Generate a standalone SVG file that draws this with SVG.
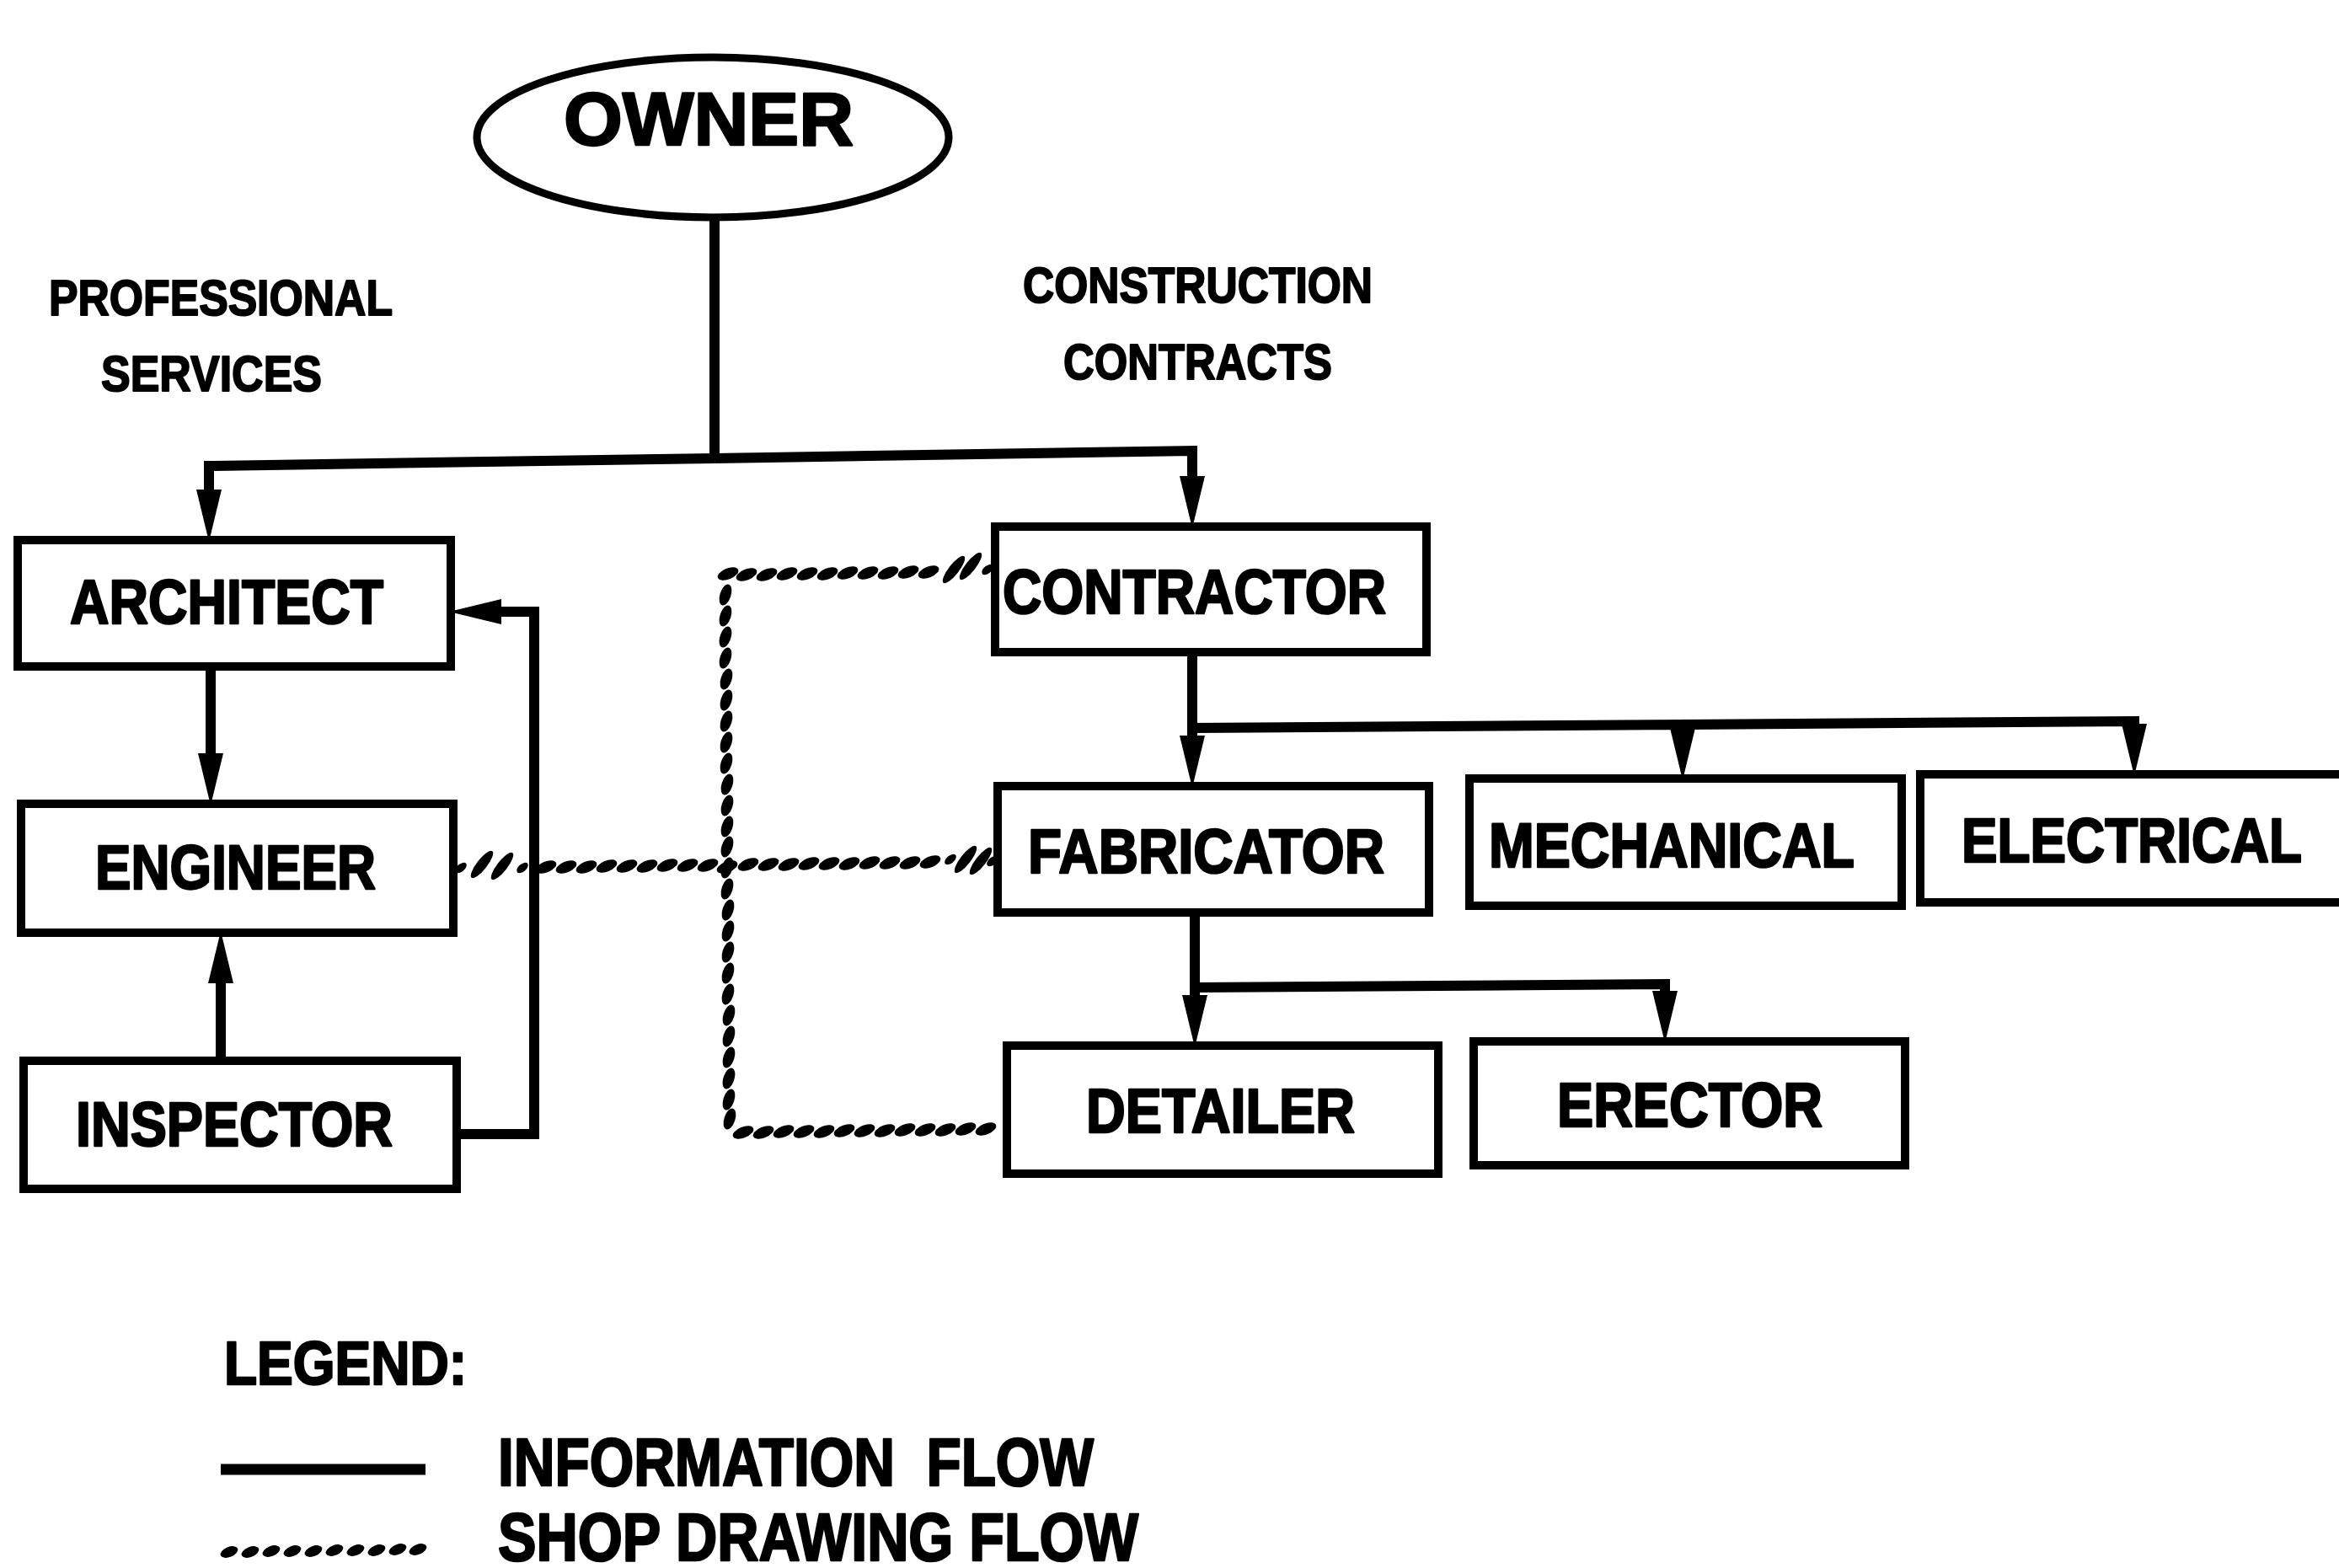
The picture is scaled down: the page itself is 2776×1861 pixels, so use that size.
<svg xmlns="http://www.w3.org/2000/svg" xmlns:xlink="http://www.w3.org/1999/xlink" width="2776" height="1861" viewBox="0 0 2776 1861">
  <style>
    .box { fill: #fff; stroke: #000; stroke-width: 10; }
    .lbl { font-family: "Liberation Sans", Arial, sans-serif; font-weight: bold; fill: #000; stroke: #000; stroke-width: 2.5; stroke-linejoin: round; }
    .node { font-size: 75px; }
    .sect { font-size: 60px; stroke-width: 2; }
    .flow { fill: none; stroke: #000; stroke-width: 12; stroke-linejoin: miter; }
    .shop { fill: #000; }
  </style>
  <defs>
    <marker id="arrow" viewBox="0 0 62 32" refX="30" refY="16" markerWidth="62" markerHeight="32" markerUnits="userSpaceOnUse" orient="auto">
      <path d="M0,1 L62,16 L0,31 Z" fill="#000"/>
    </marker>
    <!-- shop drawing dash blobs: horizontal run, vertical run, slash mark -->
    <ellipse id="bh" rx="13" ry="6.5" transform="rotate(-22)"/>
    <ellipse id="bv" rx="13" ry="6.5" transform="rotate(-72)"/>
    <ellipse id="sl" rx="20" ry="6" transform="rotate(-52)"/>
    <ellipse id="tk" rx="8" ry="4.5" transform="rotate(-40)"/>
    <ellipse id="bl" rx="11" ry="6" transform="rotate(-22)"/>
  </defs>

  <rect width="2776" height="1861" fill="#fff"/>

  <!-- section headings -->
  <g id="headings">
    <text class="lbl sect" x="58" y="374" textLength="408" lengthAdjust="spacingAndGlyphs">PROFESSIONAL</text>
    <text class="lbl sect" x="120" y="464" textLength="262" lengthAdjust="spacingAndGlyphs">SERVICES</text>
    <text class="lbl sect" x="1214" y="359" textLength="415" lengthAdjust="spacingAndGlyphs">CONSTRUCTION</text>
    <text class="lbl sect" x="1262" y="450" textLength="319" lengthAdjust="spacingAndGlyphs">CONTRACTS</text>
  </g>

  <!-- information flow connectors -->
  <g id="connectors">
    <g id="info-flow">
      <path class="flow" d="M848,257 V544"/>
      <path class="flow" d="M848,544 L248,553 V611" marker-end="url(#arrow)"/>
      <path class="flow" d="M848,544 L1415,535 V595" marker-end="url(#arrow)"/>
      <path class="flow" d="M250,791 V924" marker-end="url(#arrow)"/>
      <path class="flow" d="M262,1259 V1137" marker-end="url(#arrow)"/>
      <path class="flow" d="M542,1346 H634 V726 H565" marker-end="url(#arrow)"/>
      <path class="flow" d="M1415,774 V903" marker-end="url(#arrow)"/>
      <path class="flow" d="M1415,864 L1997,860 V894" marker-end="url(#arrow)"/>
      <path class="flow" d="M1997,860 L2533,856 V889" marker-end="url(#arrow)"/>
      <path class="flow" d="M1418,1083 V1211" marker-end="url(#arrow)"/>
      <path class="flow" d="M1418,1172 L1976,1168 V1206" marker-end="url(#arrow)"/>
    </g>

    <!-- shop drawing flow: contractor -> down -> detailer -->
    <g id="shop-flow" class="shop">
      <use href="#tk" x="1172" y="676"/>
      <use href="#sl" x="1152" y="672"/>
      <use href="#sl" x="1132" y="676"/>
      <use href="#bh" x="1102" y="679"/>
      <use href="#bh" x="1078" y="679"/>
      <use href="#bh" x="1054" y="680"/>
      <use href="#bh" x="1030" y="680"/>
      <use href="#bh" x="1006" y="680"/>
      <use href="#bh" x="982" y="681"/>
      <use href="#bh" x="958" y="681"/>
      <use href="#bh" x="934" y="681"/>
      <use href="#bh" x="910" y="682"/>
      <use href="#bh" x="886" y="682"/>
      <use href="#bh" x="864" y="681"/>

      <use href="#bv" x="861" y="706"/>
      <use href="#bv" x="861" y="731"/>
      <use href="#bv" x="861" y="756"/>
      <use href="#bv" x="861" y="781"/>
      <use href="#bv" x="862" y="806"/>
      <use href="#bv" x="862" y="831"/>
      <use href="#bv" x="862" y="856"/>
      <use href="#bv" x="862" y="881"/>
      <use href="#bv" x="862" y="906"/>
      <use href="#bv" x="863" y="931"/>
      <use href="#bv" x="863" y="956"/>
      <use href="#bv" x="863" y="981"/>
      <use href="#bv" x="863" y="1005"/>
      <use href="#bv" x="863" y="1055"/>
      <use href="#bv" x="864" y="1080"/>
      <use href="#bv" x="864" y="1105"/>
      <use href="#bv" x="864" y="1130"/>
      <use href="#bv" x="864" y="1155"/>
      <use href="#bv" x="864" y="1180"/>
      <use href="#bv" x="865" y="1205"/>
      <use href="#bv" x="865" y="1230"/>
      <use href="#bv" x="865" y="1255"/>
      <use href="#bv" x="865" y="1280"/>
      <use href="#bv" x="865" y="1305"/>
      <use href="#bv" x="866" y="1328"/>

      <use href="#bh" x="882" y="1344"/>
      <use href="#bh" x="906" y="1344"/>
      <use href="#bh" x="930" y="1343"/>
      <use href="#bh" x="954" y="1343"/>
      <use href="#bh" x="978" y="1343"/>
      <use href="#bh" x="1002" y="1342"/>
      <use href="#bh" x="1026" y="1342"/>
      <use href="#bh" x="1050" y="1342"/>
      <use href="#bh" x="1074" y="1341"/>
      <use href="#bh" x="1098" y="1341"/>
      <use href="#bh" x="1122" y="1341"/>
      <use href="#bh" x="1146" y="1340"/>
      <use href="#bh" x="1170" y="1340"/>
    </g>

    <!-- shop drawing flow: engineer -> fabricator -->
    <g id="shop-flow-2" class="shop">
      <use href="#tk" x="547" y="1030"/>
      <use href="#sl" x="572" y="1026"/>
      <use href="#sl" x="596" y="1028"/>
      <use href="#tk" x="620" y="1030"/>
      <use href="#bh" x="648" y="1029"/>
      <use href="#bh" x="672" y="1029"/>
      <use href="#bh" x="696" y="1029"/>
      <use href="#bh" x="720" y="1028"/>
      <use href="#bh" x="744" y="1028"/>
      <use href="#bh" x="768" y="1028"/>
      <use href="#bh" x="792" y="1027"/>
      <use href="#bh" x="816" y="1027"/>
      <use href="#bh" x="840" y="1027"/>
      <use href="#bh" x="863" y="1029"/>
      <use href="#bv" x="863" y="1030"/>
      <use href="#bh" x="888" y="1026"/>
      <use href="#bh" x="912" y="1026"/>
      <use href="#bh" x="936" y="1026"/>
      <use href="#bh" x="960" y="1025"/>
      <use href="#bh" x="984" y="1025"/>
      <use href="#bh" x="1008" y="1025"/>
      <use href="#bh" x="1032" y="1024"/>
      <use href="#bh" x="1056" y="1024"/>
      <use href="#bh" x="1080" y="1024"/>
      <use href="#bh" x="1104" y="1023"/>
      <use href="#tk" x="1128" y="1020"/>
      <use href="#sl" x="1146" y="1020"/>
      <use href="#sl" x="1164" y="1022"/>
      <use href="#tk" x="1178" y="1022"/>
    </g>
  </g>

  <!-- nodes -->
  <g id="owner">
    <ellipse cx="846" cy="163" rx="280" ry="95" fill="#fff" stroke="#000" stroke-width="9"/>
    <text class="lbl" x="669" y="172" font-size="89" stroke-width="3" textLength="344" lengthAdjust="spacingAndGlyphs">OWNER</text>
  </g>
  <g id="architect">
    <rect class="box" x="21" y="641" width="514" height="150"/>
    <text class="lbl node" x="83" y="740" textLength="372" lengthAdjust="spacingAndGlyphs">ARCHITECT</text>
  </g>
  <g id="engineer">
    <rect class="box" x="25" y="954" width="513" height="153"/>
    <text class="lbl node" x="113" y="1055" textLength="333" lengthAdjust="spacingAndGlyphs">ENGINEER</text>
  </g>
  <g id="inspector">
    <rect class="box" x="28" y="1259" width="514" height="152"/>
    <text class="lbl node" x="90" y="1360" textLength="376" lengthAdjust="spacingAndGlyphs">INSPECTOR</text>
  </g>
  <g id="contractor">
    <rect class="box" x="1181" y="625" width="512" height="149"/>
    <text class="lbl node" x="1190" y="728" textLength="455" lengthAdjust="spacingAndGlyphs">CONTRACTOR</text>
  </g>
  <g id="fabricator">
    <rect class="box" x="1184" y="933" width="512" height="150"/>
    <text class="lbl node" x="1220" y="1036" textLength="423" lengthAdjust="spacingAndGlyphs">FABRICATOR</text>
  </g>
  <g id="mechanical">
    <rect class="box" x="1744" y="924" width="513" height="151"/>
    <text class="lbl node" x="1767" y="1029" textLength="434" lengthAdjust="spacingAndGlyphs">MECHANICAL</text>
  </g>
  <g id="electrical">
    <rect class="box" x="2279" y="919" width="520" height="152"/>
    <text class="lbl node" x="2328" y="1023" textLength="404" lengthAdjust="spacingAndGlyphs">ELECTRICAL</text>
  </g>
  <g id="detailer">
    <rect class="box" x="1195" y="1241" width="512" height="152"/>
    <text class="lbl node" x="1289" y="1344" textLength="319" lengthAdjust="spacingAndGlyphs">DETAILER</text>
  </g>
  <g id="erector">
    <rect class="box" x="1749" y="1236" width="512" height="147"/>
    <text class="lbl node" x="1848" y="1337" textLength="315" lengthAdjust="spacingAndGlyphs">ERECTOR</text>
  </g>

  <!-- legend -->
  <g id="legend">
    <text class="lbl" x="266" y="1643" font-size="73" textLength="288" lengthAdjust="spacingAndGlyphs">LEGEND:</text>
    <line x1="262" y1="1744" x2="505" y2="1744" stroke="#000" stroke-width="13"/>
    <text class="lbl" x="591" y="1763" font-size="80" textLength="707" lengthAdjust="spacingAndGlyphs" xml:space="preserve">INFORMATION  FLOW</text>
    <g class="shop">
      <use href="#bl" x="272" y="1842"/>
      <use href="#bl" x="297" y="1842"/>
      <use href="#bl" x="322" y="1841"/>
      <use href="#bl" x="347" y="1841"/>
      <use href="#bl" x="372" y="1841"/>
      <use href="#bl" x="397" y="1840"/>
      <use href="#bl" x="422" y="1840"/>
      <use href="#bl" x="447" y="1840"/>
      <use href="#bl" x="472" y="1839"/>
      <use href="#bl" x="496" y="1839"/>
    </g>
    <text class="lbl" x="591" y="1852" font-size="80" textLength="760" lengthAdjust="spacingAndGlyphs">SHOP DRAWING FLOW</text>
  </g>
</svg>
